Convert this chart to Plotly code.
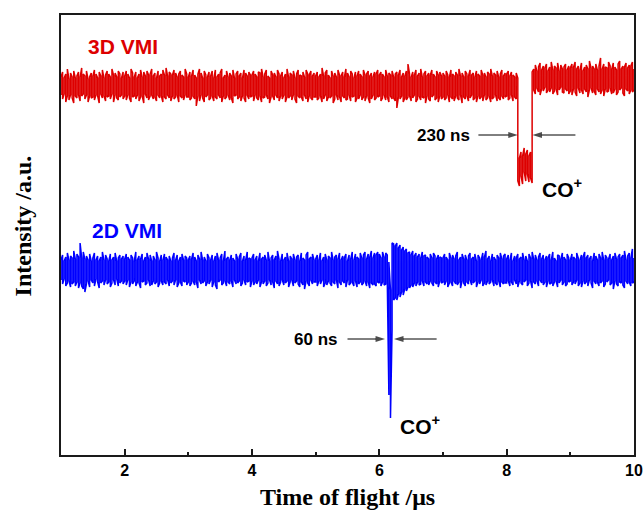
import numpy as np
import plotly.graph_objects as go

# Time-of-flight bins (µs), 25 ns wide; each bin keeps its min and max sample
t_us = np.linspace(1.0, 10.0, 361)

# 3D VMI trace: per-bin maximum / minimum relative to its baseline (a.u.)
red_max = (
    [9, 14, 8, 12, 17, 7, 13, 9, 15, 8, 10, 14, 9, 18, 12, 10, 15, 7, 9, 13,
     10, 16, 12, 8, 14, 10, 16, 8, 11, 15, 12, 9, 17, 11, 13, 9, 15, 12, 8, 14]
    + [10, 15, 12, 8, 17, 13, 9, 14, 8, 12, 16, 9, 14, 10, 15, 11, 12, 17, 10, 13,
       8, 15, 10, 12, 16, 11, 18, 10, 14, 12, 11, 16, 13, 9, 12, 15, 11, 9, 17, 12]
    + [9, 14, 10, 16, 11, 8, 12, 17, 13, 8, 15, 11, 9, 14, 10, 15, 8, 16, 9, 12,
       13, 17, 8, 11, 15, 9, 13, 10, 16, 8, 12, 15, 10, 13, 8, 16, 13, 10, 14, 11]
    + [11, 15, 12, 9, 14, 13, 17, 9, 12, 16, 10, 8, 15, 11, 13, 9, 16, 12, 10, 14,
       8, 12, 17, 9, 13, 11, 15, 8, 12, 16, 11, 10, 14, 9, 16, 12, 11, 15, 10, 13]
    + [10, 14, 9, 12, 18, 10, 13, 16, 11, 8, 15, 10, 13, 9, 16, 11, 10, 14, 9, 17,
       13, 9, 15, 12, 8, 14, 10, 15, 12, 9, 16, 11, 12, 15, 10, 13, 9, 14, 12, 16]
    + [11, 14, 12, 9, 16, 10, 13, 11, 15, 9, 12, 14, 11, 16, 9, 13, 10, 15, 22, 12,
       9, 14, 11, 16, 10, 13, 17, 9, 12, 15, 10, 13, 11, 16, 12, 9, 15, 11, 14, 10]
    + [13, 10, 15, 11, 9, 16, 12, 10, 14, 11, 17, 10, 13, 9, 15, 12, 10, 16, 11, 13,
       9, 15, 12, 10, 16, 11, 13, 9, 14, 12, 17, 10, 13, 11, 15, 9, 12, 16, 10, 13]
    + [12, 15, 10, 14, 11, 9, 13, 8, -72, -66, -70, -62, -68, -64, -70, -66, 14, 17, 21, 15,
       19, 23, 16, 20, 18, 22, 15, 19, 24, 16, 20, 18, 23, 15, 21, 17, 19, 22, 16, 20]
    + [18, 22, 19, 24, 17, 20, 16, 23, 15, 19, 21, 17, 25, 18, 20, 17, 22, 16, 20, 28,
       17, 22, 19, 18, 24, 20, 17, 23, 19, 16, 22, 25, 17, 20, 19, 23, 18, 21, 20, 24]
    + [17]
)
red_min = (
    [-9, -13, -8, -16, -10, -14, -9, -12, -17, -10, -12, -9, -15, -10, -8, -13, -9, -16, -10, -12,
     -11, -14, -9, -10, -17, -8, -12, -10, -15, -11, -10, -13, -8, -16, -9, -12, -14, -11, -9, -13]
    + [-10, -14, -9, -12, -16, -11, -10, -13, -9, -15, -11, -10, -17, -8, -12, -14, -10, -9, -13, -11,
       -15, -9, -12, -10, -16, -11, -13, -9, -12, -15, -10, -13, -11, -9, -16, -10, -12, -14, -9, -11]
    + [-11, -14, -12, -10, -13, -20, -10, -15, -9, -12, -16, -11, -9, -14, -12, -10, -15, -11, -13, -9,
       -12, -16, -10, -13, -11, -9, -14, -12, -17, -10, -9, -13, -11, -15, -10, -12, -16, -9, -13, -11]
    + [-10, -15, -9, -12, -14, -10, -16, -12, -11, -9, -13, -17, -11, -10, -14, -9, -12, -15, -10, -13,
       -9, -16, -11, -12, -10, -14, -9, -13, -17, -10, -12, -11, -15, -9, -13, -16, -10, -12, -14, -11]
    + [-11, -14, -12, -10, -16, -13, -9, -15, -11, -12, -10, -17, -13, -9, -14, -11, -16, -10, -12, -14,
       -13, -9, -15, -11, -10, -16, -12, -13, -9, -14, -11, -15, -10, -12, -17, -13, -9, -14, -12, -11]
    + [-10, -15, -12, -9, -14, -11, -16, -10, -13, -12, -15, -22, -11, -13, -10, -16, -12, -14, -11, -10,
       -15, -12, -9, -16, -13, -10, -14, -11, -12, -17, -10, -13, -15, -11, -9, -14, -12, -16, -10, -13]
    + [-11, -14, -12, -9, -16, -11, -13, -15, -10, -12, -14, -9, -17, -11, -13, -10, -15, -12, -9, -14,
       -12, -16, -10, -13, -11, -15, -9, -14, -12, -10, -16, -13, -11, -9, -15, -12, -14, -10, -13, -11]
    + [-10, -14, -12, -9, -15, -11, -13, -95, -100, -90, -98, -86, -95, -88, -96, -92, -97, -4, -8, -2,
       -6, -9, -3, -5, -1, -7, -4, -6, -2, -8, -5, -3, -9, -4, -1, -6, -7, -3, -5, -8]
    + [-5, -9, -3, -6, -10, -2, -7, -4, -8, -3, -6, -11, -4, -2, -7, -5, -9, -3, -6, -8,
       -4, -10, -3, -6, -5, -2, -8, -7, -3, -9, -6, -4, -2, -7, -10, -3, -5, -8, -4, -6]
    + [-4]
)

# 2D VMI trace: per-bin maximum / minimum relative to its baseline (a.u.)
blue_max = (
    [10, 15, 9, 13, 17, 10, 14, 12, 19, 11, 16, 13, 27, 12, 18, 11, 14, 10, 16, 9,
     12, 17, 10, 14, 9, 13, 18, 10, 15, 11, 9, 16, 10, 13, 17, 9, 12, 15, 11, 14]
    + [11, 16, 13, 10, 15, 12, 9, 18, 10, 14, 11, 16, 9, 13, 17, 11, 15, 9, 14, 10,
       18, 12, 9, 15, 10, 16, 13, 10, 14, 9, 12, 17, 10, 15, 9, 13, 16, 10, 14, 12]
    + [10, 14, 11, 17, 13, 9, 15, 11, 18, 10, 13, 9, 16, 12, 10, 15, 9, 14, 17, 10,
       12, 16, 9, 19, 11, 13, 10, 15, 12, 9, 16, 11, 13, 17, 9, 14, 10, 18, 12, 11]
    + [12, 16, 10, 14, 9, 17, 11, 13, 15, 10, 18, 9, 12, 15, 10, 14, 19, 11, 9, 16,
       10, 13, 17, 9, 14, 11, 16, 10, 13, 15, 9, 17, 12, 10, 15, 18, 11, 13, 16, 10]
    + [11, 15, 10, 17, 9, 13, 16, 10, 14, 12, 18, 10, 13, 15, 11, 17, 10, 14, 12, 16,
       9, 15, 11, 18, 10, 16, 13, 11, 17, 12, 15, 18, 11, 16, 13, 19, 12, 17, 15, 18]
    + [16, 12, 18, 13, 17, 15, 8, -20, 27, 26, 24, 27, 22, 25, 20, 23, 19, 21, 17, 18,
       15, 19, 14, 17, 13, 16, 12, 18, 14, 15, 13, 11, 16, 12, 17, 14, 11, 15, 13, 12]
    + [12, 16, 13, 10, 17, 12, 15, 11, 14, 18, 10, 13, 16, 11, 15, 10, 14, 17, 11, 13,
       16, 9, 15, 12, 10, 17, 13, 19, 11, 14, 9, 16, 13, 10, 15, 12, 17, 11, 14, 16]
    + [11, 15, 10, 17, 9, 14, 12, 16, 11, 13, 17, 10, 14, 9, 16, 12, 18, 11, 15, 10,
       13, 17, 11, 15, 10, 14, 12, 16, 10, 18, 12, 9, 15, 14, 11, 17, 13, 10, 16, 12]
    + [10, 16, 13, 11, 17, 12, 10, 15, 13, 18, 12, 15, 11, 14, 9, 17, 14, 10, 16, 12,
       18, 10, 15, 12, 11, 16, 10, 14, 17, 11, 13, 16, 12, 15, 19, 10, 14, 17, 12, 21]
    + [12]
)
blue_min = (
    [-10, -14, -9, -16, -13, -11, -17, -14, -12, -16, -12, -18, -13, -16, -19, -22, -14, -11, -17, -10,
     -13, -16, -9, -12, -18, -13, -11, -15, -10, -14, -12, -17, -13, -10, -15, -9, -16, -13, -11, -14]
    + [-11, -15, -10, -17, -12, -14, -11, -16, -12, -13, -18, -12, -11, -15, -13, -10, -16, -15, -11, -14,
       -12, -17, -13, -11, -15, -12, -14, -10, -16, -13, -11, -15, -10, -17, -13, -12, -16, -11, -12, -15]
    + [-12, -16, -13, -11, -15, -12, -18, -10, -14, -13, -11, -16, -12, -14, -10, -17, -12, -15, -19, -12,
       -10, -15, -13, -11, -16, -12, -14, -11, -17, -10, -14, -13, -11, -16, -13, -10, -15, -12, -11, -17]
    + [-11, -15, -12, -14, -10, -17, -12, -14, -11, -16, -13, -10, -15, -12, -18, -11, -14, -16, -12, -10,
       -15, -13, -11, -17, -12, -10, -16, -13, -11, -14, -17, -12, -15, -19, -11, -13, -16, -10, -14, -12]
    + [-12, -16, -11, -14, -10, -17, -13, -15, -11, -13, -16, -12, -14, -10, -18, -12, -15, -11, -13, -17,
       -10, -15, -13, -12, -16, -11, -17, -14, -12, -15, -13, -11, -16, -12, -18, -13, -15, -14, -16, -12]
    + [-13, -16, -12, -15, -14, -12, -125, -148, -60, -30, -28, -30, -24, -27, -22, -25, -19, -21, -17, -18,
       -15, -17, -13, -16, -12, -15, -14, -11, -16, -12, -14, -15, -11, -13, -16, -12, -14, -17, -11, -13]
    + [-12, -15, -11, -17, -13, -12, -16, -11, -14, -15, -12, -18, -11, -13, -16, -12, -14, -10, -15, -13,
       -11, -17, -12, -14, -10, -16, -13, -15, -11, -14, -12, -10, -16, -13, -15, -11, -17, -12, -14, -13]
    + [-13, -11, -16, -12, -15, -10, -14, -17, -11, -13, -15, -12, -10, -16, -13, -11, -18, -12, -14, -11,
       -16, -10, -13, -15, -12, -17, -11, -14, -13, -16, -12, -11, -17, -13, -10, -15, -12, -16, -14, -12]
    + [-11, -15, -12, -14, -10, -16, -13, -17, -11, -14, -12, -16, -10, -13, -18, -11, -14, -12, -16, -13,
       -11, -17, -14, -12, -10, -15, -13, -19, -11, -14, -16, -12, -13, -15, -18, -11, -14, -12, -16, -13]
    + [-12]
)

for arr in (red_max, red_min, blue_max, blue_min):
    assert len(arr) == len(t_us)

# Vertical stacking offsets for the two traces
red_offset = 369
blue_offset = 185

RED = "#dd0000"
BLUE = "#0000ff"
SANS = "Liberation Sans"
SERIF = "Liberation Serif"


def envelope_path(t, hi, lo, offset):
    """Peak-detect style path: a vertical stroke per bin, from min to max."""
    xs, ys = [], []
    for i, (tt, h, l) in enumerate(zip(t, hi, lo)):
        pair = (l, h) if i % 2 == 0 else (h, l)
        xs += [tt, tt]
        ys += [pair[0] + offset, pair[1] + offset]
    return xs, ys


fig = go.Figure()
for hi, lo, off, col, name in [(red_max, red_min, red_offset, RED, "3D VMI"),
                               (blue_max, blue_min, blue_offset, BLUE, "2D VMI")]:
    xs, ys = envelope_path(t_us, hi, lo, off)
    fig.add_trace(go.Scatter(x=xs, y=ys, mode="lines", name=name,
                             line=dict(color=col, width=1.5)))

# Width markers: arrows pointing at the edges of each CO+ dip (tail -> tip)
arrows = [
    (7.556, 8.175, 320),
    (9.08, 8.405, 320),
    (5.50, 6.09, 116),
    (6.90, 6.23, 116),
]
for tail_x, tip_x, yy in arrows:
    fig.add_trace(go.Scatter(
        x=[tail_x, tip_x], y=[yy, yy], mode="lines+markers",
        line=dict(color="black", width=1),
        marker=dict(symbol="arrow", angleref="previous", size=[0, 10],
                    color="black", line=dict(width=0)),
        hoverinfo="skip"))

annotations = [
    dict(text="3D VMI", x=1.40, y=409, xanchor="left", yanchor="middle",
         font=dict(family=SANS, size=21, color=RED, weight="bold")),
    dict(text="2D VMI", x=1.45, y=225, xanchor="left", yanchor="middle",
         font=dict(family=SANS, size=21, color=BLUE, weight="bold")),
    dict(text="230 ns", x=7.45, y=320, xanchor="right", yanchor="middle",
         font=dict(family=SANS, size=17, color="black", weight="bold")),
    dict(text="CO<sup>+</sup>", x=8.53, y=267, xanchor="left", yanchor="middle",
         font=dict(family=SANS, size=21, color="black", weight="bold")),
    dict(text="60 ns", x=5.37, y=116, xanchor="right", yanchor="middle",
         font=dict(family=SANS, size=17, color="black", weight="bold")),
    dict(text="CO<sup>+</sup>", x=6.30, y=30, xanchor="left", yanchor="middle",
         font=dict(family=SANS, size=21, color="black", weight="bold")),
]
for a in annotations:
    a.update(xref="x", yref="y", showarrow=False)

# Axis titles
annotations.append(dict(text="Time of flight /μs", xref="paper", yref="paper",
                        x=0.5, y=-0.0955, xanchor="center", yanchor="middle",
                        showarrow=False,
                        font=dict(family=SERIF, size=24, color="black", weight="bold")))
annotations.append(dict(text="Intensity /a.u.", xref="paper", yref="paper",
                        x=-0.066, y=0.52, xanchor="center", yanchor="middle",
                        textangle=-90, showarrow=False,
                        font=dict(family=SERIF, size=24, color="black", weight="bold")))

fig.update_layout(
    width=644, height=514,
    margin=dict(l=61, r=10, t=15, b=59),
    plot_bgcolor="white", paper_bgcolor="white",
    showlegend=False,
    annotations=annotations,
)
fig.update_xaxes(
    range=[1, 10], showline=True, linecolor="#1a1a1a", linewidth=1.5, mirror=True,
    ticks="inside", ticklen=6, tickwidth=1.5, tickcolor="#1a1a1a",
    tickvals=[2, 4, 6, 8, 10],
    tickfont=dict(family=SANS, size=16, color="black", weight="bold"),
    showgrid=False, zeroline=False, automargin=False,
    minor=dict(tickvals=[3, 5, 7, 9], ticks="inside", ticklen=3, tickwidth=1.5,
               tickcolor="#1a1a1a", showgrid=False),
)
fig.update_yaxes(
    range=[0, 440], showline=True, linecolor="#1a1a1a", linewidth=1.5, mirror=True,
    ticks="", showticklabels=False, showgrid=False, zeroline=False, automargin=False,
)

fig.write_html("out.html")
